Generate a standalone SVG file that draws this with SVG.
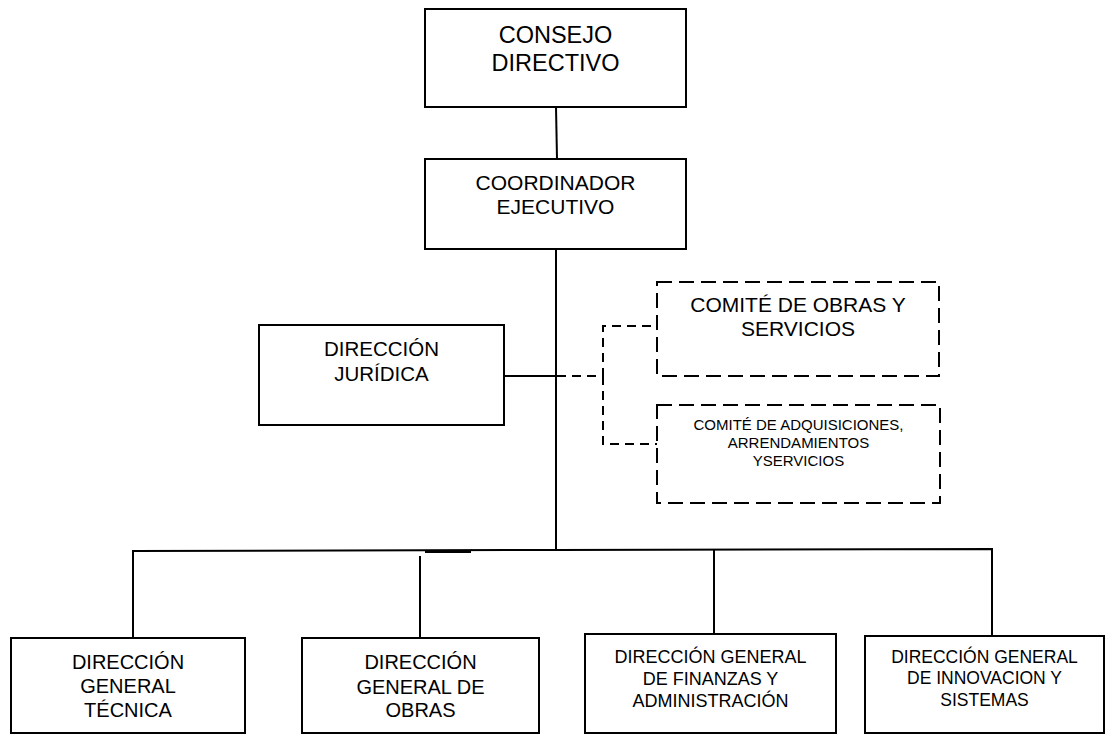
<svg xmlns="http://www.w3.org/2000/svg" width="1105" height="735" viewBox="0 0 1105 735">
<style>
  .box { fill: #ffffff; stroke: #000000; stroke-width: 2; }
  .dbox { fill: #ffffff; stroke: #000000; stroke-width: 2; stroke-dasharray: 15 7; }
  .ln { fill: none; stroke: #000000; stroke-width: 2; }
  .dln { fill: none; stroke: #000000; stroke-width: 2; stroke-dasharray: 9 6; }
  text { font-family: "Liberation Sans", Arial, sans-serif; fill: #000000; text-anchor: middle; }
</style>
<rect width="1105" height="735" fill="#ffffff"/>
<g id="connectors">
  <line class="ln" x1="556" y1="107" x2="557" y2="159"/>
  <line class="ln" x1="556" y1="249" x2="556" y2="551"/>
  <line class="ln" x1="504" y1="376" x2="556" y2="376"/>
  <polyline class="dln" points="557,376 603,376 603,326 657,326"/>
  <polyline class="dln" points="603,376 603,444 657,444"/>
  <polyline class="ln" points="133,638 133,551 556,550 992,549 992,636"/>
  <line class="ln" x1="425" y1="552" x2="471" y2="552"/>
  <line class="ln" x1="420" y1="556" x2="420" y2="638"/>
  <line class="ln" x1="714" y1="549" x2="714" y2="634"/>
</g>
<g id="consejo-directivo">
  <rect class="box" x="425" y="9" width="261" height="98"/>
  <text x="555.5" y="43" font-size="23.5">CONSEJO</text>
  <text x="555.5" y="71" font-size="23.5">DIRECTIVO</text>
</g>
<g id="coordinador-ejecutivo">
  <rect class="box" x="425" y="159" width="261" height="90"/>
  <text x="555.5" y="190" font-size="21">COORDINADOR</text>
  <text x="555.5" y="214" font-size="21">EJECUTIVO</text>
</g>
<g id="direccion-juridica">
  <rect class="box" x="259" y="325" width="245" height="100"/>
  <text x="381.5" y="356" font-size="20.5">DIRECCIÓN</text>
  <text x="381.5" y="381" font-size="20.5">JURÍDICA</text>
</g>
<g id="comite-obras">
  <rect class="dbox" x="657" y="282" width="282" height="94"/>
  <text x="798" y="312" font-size="21">COMITÉ DE OBRAS Y</text>
  <text x="798" y="336" font-size="21">SERVICIOS</text>
</g>
<g id="comite-adquisiciones">
  <rect class="dbox" x="657" y="405" width="283" height="98"/>
  <text x="798.5" y="430" font-size="15">COMITÉ DE ADQUISICIONES,</text>
  <text x="798.5" y="448" font-size="15">ARRENDAMIENTOS</text>
  <text x="798.5" y="466" font-size="15">YSERVICIOS</text>
</g>
<g id="dg-tecnica">
  <rect class="box" x="11" y="638" width="234" height="95"/>
  <text x="128" y="669" font-size="20">DIRECCIÓN</text>
  <text x="128" y="693" font-size="20">GENERAL</text>
  <text x="128" y="717" font-size="20">TÉCNICA</text>
</g>
<g id="dg-obras">
  <rect class="box" x="302" y="638" width="237" height="95"/>
  <text x="420.5" y="669" font-size="20">DIRECCIÓN</text>
  <text x="420.5" y="694" font-size="20">GENERAL DE</text>
  <text x="420.5" y="717" font-size="20">OBRAS</text>
</g>
<g id="dg-finanzas">
  <rect class="box" x="585" y="634" width="251" height="99"/>
  <text x="710.5" y="663" font-size="18">DIRECCIÓN GENERAL</text>
  <text x="710.5" y="685" font-size="18">DE FINANZAS Y</text>
  <text x="710.5" y="707" font-size="18">ADMINISTRACIÓN</text>
</g>
<g id="dg-innovacion">
  <rect class="box" x="865" y="636" width="239" height="97"/>
  <text x="984.5" y="663" font-size="17.5">DIRECCIÓN GENERAL</text>
  <text x="984.5" y="684" font-size="17.5">DE INNOVACION Y</text>
  <text x="984.5" y="706" font-size="17.5">SISTEMAS</text>
</g>
</svg>
